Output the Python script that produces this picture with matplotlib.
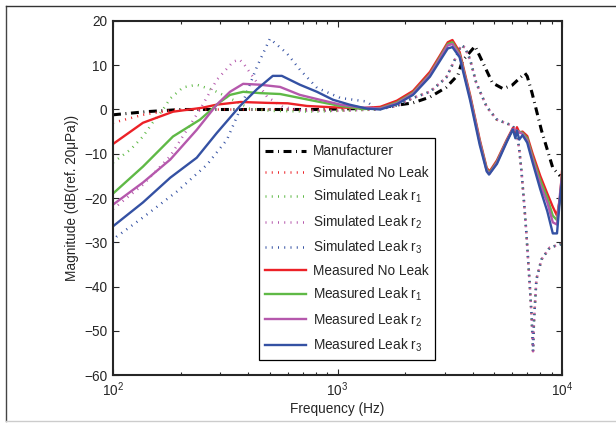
import numpy as np
import matplotlib
matplotlib.use("Agg")
import matplotlib.pyplot as plt
from matplotlib.lines import Line2D
from matplotlib.ticker import LogLocator, FixedLocator

plt.rcParams['font.family'] = ['Liberation Sans', 'DejaVu Sans']
plt.rcParams['mathtext.default'] = 'regular'
plt.rcParams['font.size'] = 9.8

# Manufacturer curve
f_man = [100, 140, 200, 400, 800, 1500, 2170, 2580, 3050, 3440, 3600, 4100,
         4450, 4900, 5460, 6000, 6840, 7000, 7350, 8100, 9100, 9800]
m_man = [-1.2, -0.5, 0, 0, 0, 0.3, 1.5, 2.8, 5, 7.8, 11, 14.3,
         10.5, 6, 4.7, 5.5, 8.2, 7.5, 3.8, -4.7, -13.2, -15]

# simulated curves: low-frequency part differs, high-frequency part shared
f_sim_hi = [1500, 1840, 2170, 2580, 3050, 3350, 3550, 3700, 3900, 4150, 4620,
            5130, 5840, 6000, 6280, 6450, 6600, 6800, 6940, 7170, 7320, 7430,
            7500, 7690, 8100, 8820, 9800, 10000]
m_sim_hi = [0, 0.8, 2.6, 4, 7.2, 11.5, 14.5, 14, 11.2, 6, 0.6,
            -2.3, -3.4, -3.6, -5, -9, -14, -22, -28, -39, -46.6, -54.6,
            -48, -38.4, -33.9, -31.2, -30.5, -30.3]

f_sim0 = [100, 136, 185, 300, 600, 1000]
m_sim0 = [-3, -1.2, -0.1, 0, 0, -0.2]
f_sim1 = [100, 120, 136, 150, 167, 180, 205, 236, 279, 342, 407, 500, 800, 1000]
m_sim1 = [-12, -9, -6.1, -3, 0, 2.5, 5, 5.6, 4.4, 2.2, 0.2, -0.3, -0.5, -0.3]
f_sim2 = [100, 136, 180, 244, 290, 343, 365, 380, 420, 485, 570, 700, 1000]
m_sim2 = [-22.5, -17, -10.5, 0, 6.7, 10.8, 11.3, 10.5, 7.4, 2.9, 0.6, -0.3, -0.3]
f_sim3 = [100, 104, 136, 193, 262, 322, 368, 438, 500, 595, 680, 810, 1030, 1350]
m_sim3 = [-30, -28.7, -24.4, -18.5, -12.5, -6.8, 0, 9.7, 16, 12.7, 9, 4.9, 2.6, 1.8]

# measured curves
f_meas0 = [100, 136, 185, 250, 290, 370, 485, 600, 730, 950, 1300, 1550, 1840,
           2170, 2580, 2860, 3100, 3250, 3500, 3900, 4300, 4620, 4760, 5130,
           5680, 6040, 6200, 6300, 6450, 6670, 7000, 7400, 8000, 8600, 9100,
           9500, 9800, 10000]
m_meas0 = [-7.8, -3, -0.5, 0.4, 1.1, 1.7, 1.5, 1.4, 0.8, 0.5, 0.3, 0.6, 2,
           4.2, 8.5, 12.2, 15.2, 15.7, 13, 3.2, -6.8, -13.2, -14, -11.5,
           -6.8, -4.2, -5.5, -4, -5.2, -5, -6, -10, -15, -19, -22,
           -24, -20, -14]
f_meas1 = [100, 136, 185, 244, 300, 332, 380, 452, 555, 680, 835, 1030, 1300,
           1550, 1840, 2170, 2580, 2860, 3100, 3250, 3500, 3900, 4300, 4620,
           4760, 5130, 5680, 6040, 6300, 6670, 7000, 7400, 8000, 8600, 9100,
           9500, 9800, 10000]
m_meas1 = [-19, -12.9, -6.1, -2.3, 1.7, 3.3, 4, 3.7, 3.5, 2.6, 1.7, 0.8, 0.1,
           0.3, 1.6, 3.8, 8, 11.8, 14.8, 15.2, 12.5, 2.8, -7.2, -13.5,
           -14.3, -11.8, -7, -4.5, -4.8, -5.3, -6.5, -10.8, -16, -20, -24,
           -25, -20, -15]
f_meas2 = [100, 136, 180, 236, 290, 332, 380, 452, 555, 680, 835, 1030, 1260,
           1550, 1840, 2170, 2580, 2860, 3100, 3250, 3500, 3900, 4300, 4620,
           4760, 5130, 5680, 6040, 6300, 6670, 7000, 7400, 8000, 8600, 9100,
           9500, 9800, 10000]
m_meas2 = [-21.5, -16.5, -11.3, -4.6, 1.1, 4, 5.8, 5.6, 5.1, 3.3, 2.2, 1.1, 0.5,
           0.2, 1.4, 3.6, 7.8, 11.5, 14.5, 14.8, 12.2, 2.6, -7.4, -13.8,
           -14.5, -12, -7.1, -4.4, -4.8, -5.5, -7, -11.3, -17, -21, -25.5,
           -26, -19, -15]
f_meas3 = [100, 136, 180, 236, 290, 330, 368, 438, 515, 565, 680, 810, 955,
           1130, 1350, 1550, 1840, 2170, 2580, 2860, 3100, 3250, 3500, 3900,
           4300, 4620, 4730, 5130, 5680, 6040, 6200, 6300, 6450, 6670, 7000,
           7400, 8000, 8600, 9100, 9500, 9800, 10000]
m_meas3 = [-26.4, -21, -15.4, -10.9, -5.3, -2, 0.8, 4.6, 7.6, 7.6, 5.6, 4, 2.2,
           1.1, 0.2, 0, 1.2, 3.3, 7.4, 11, 13.8, 14.1, 11.8, 2,
           -8, -14, -14.7, -12.3, -7.3, -4.5, -6.5, -4.8, -6.8, -5.8, -7.5,
           -12, -18, -23, -28, -28, -20, -16]

labels = ['Manufacturer', 'Simulated No Leak', 'Simulated Leak r$_1$',
          'Simulated Leak r$_2$', 'Simulated Leak r$_3$', 'Measured No Leak',
          'Measured Leak r$_1$', 'Measured Leak r$_2$', 'Measured Leak r$_3$']

colors = ['#ec2127', '#5fb946', '#b558ac', '#3451a3']

fig = plt.figure(figsize=(6.16, 4.23), dpi=100)
ax = fig.add_axes([113 / 616, 48 / 423, 449 / 616, 354 / 423])

ax.plot(f_man, m_man, color='black', lw=2.2, dashes=(2.6, 1.5, 0.3, 1.5),
        label=labels[0])

sim_f = [f_sim0, f_sim1, f_sim2, f_sim3]
sim_m = [m_sim0, m_sim1, m_sim2, m_sim3]
for i in range(4):
    f = sim_f[i] + f_sim_hi
    m = sim_m[i] + m_sim_hi
    ax.plot(f, m, color=colors[i], lw=1.8, dashes=(0.4, 2.1),
            dash_capstyle='butt', label=labels[1 + i])

meas_f = [f_meas0, f_meas1, f_meas2, f_meas3]
meas_m = [m_meas0, m_meas1, m_meas2, m_meas3]
for i in range(4):
    ax.plot(meas_f[i], meas_m[i], color=colors[i], lw=1.7, label=labels[5 + i])

ax.set_xscale('log')
ax.set_xlim(100, 10000)
ax.set_ylim(-60, 20)
ax.yaxis.set_major_locator(FixedLocator(np.arange(-60, 21, 10)))
ax.xaxis.set_major_locator(LogLocator(base=10))
ax.xaxis.set_minor_locator(LogLocator(base=10, subs=np.arange(2, 10)))

ax.tick_params(which='both', direction='in', top=True, right=True,
               colors='#262626', labelcolor='#262626')
ax.tick_params(which='major', length=4, width=0.8, pad=4)
ax.tick_params(which='minor', length=2.5, width=0.8)
for s in ax.spines.values():
    s.set_linewidth(1.5)
    s.set_color('#262626')

ax.set_xlabel('Frequency (Hz)', color='#262626', labelpad=2)
ax.set_ylabel('Magnitude (dB(ref. 20μPa))', color='#262626', labelpad=4)

leg = ax.legend(loc='upper left', bbox_to_anchor=(0.325, 0.669),
                borderaxespad=0, fancybox=False, framealpha=1,
                edgecolor='black', handlelength=3.0, labelspacing=0.58,
                handletextpad=0.55, borderpad=0.45)
leg.get_frame().set_linewidth(0.9)
for t in leg.get_texts():
    t.set_color('#262626')

# figure border
fig.add_artist(Line2D([6 / 616, 6 / 616], [417 / 423, 2 / 423],
                      transform=fig.transFigure, color='#444444', lw=1))
fig.add_artist(Line2D([6 / 616, 1], [417 / 423, 417 / 423],
                      transform=fig.transFigure, color='#333333', lw=1))
fig.add_artist(Line2D([6 / 616, 1], [2 / 423, 2 / 423],
                      transform=fig.transFigure, color='#cccccc', lw=1))

fig.savefig('out.png', dpi=100)
